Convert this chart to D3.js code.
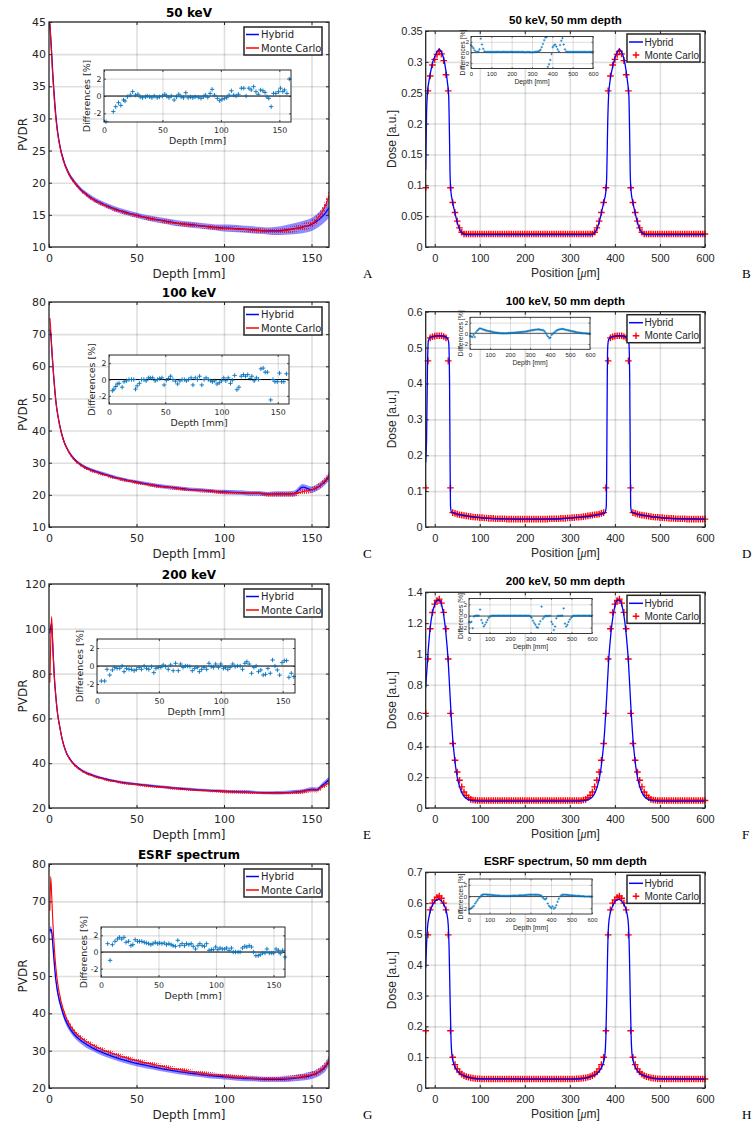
<!DOCTYPE html>
<html><head><meta charset="utf-8">
<script src="https://cdn.jsdelivr.net/npm/d3@7"></script>
<style>body{margin:0;background:#fff;} svg{display:block}</style>
</head><body>
<script>
// ---------------- DATA ----------------
const depth = [0.5,1,1.5,2,2.5,3,4,5,6,7,8,9,10,12,14,16,18,20,25,30,35,40,45,50,55,60,65,70,75,80,85,90,95,100,105,110,115,120,125,130,135,140,145,150,153,156,158,160];

const hybA = [44.6,42.5,40.3,37.8,35.6,33.6,30.2,27.8,26.1,24.8,23.8,22.9,22.2,21.1,20.3,19.6,19.0,18.5,17.5,16.8,16.2,15.7,15.3,14.95,14.6,14.35,14.1,13.85,13.65,13.5,13.35,13.2,13.05,12.95,12.9,12.8,12.7,12.6,12.5,12.5,12.65,12.85,13.1,13.5,14.0,14.7,15.3,16.1];
const mcA = [45.0,42.3,39.8,37.2,35.0,33.0,29.8,27.5,25.9,24.6,23.6,22.8,22.1,21.0,20.2,19.5,18.9,18.4,17.4,16.7,16.1,15.6,15.2,14.9,14.55,14.3,14.05,13.8,13.6,13.45,13.3,13.15,13.0,12.9,12.85,12.75,12.65,12.55,12.45,12.4,12.55,12.8,13.15,13.6,14.3,15.4,16.5,18.0];
const hybErrA = [0.3,0.3,0.3,0.3,0.3,0.3,0.3,0.3,0.3,0.3,0.3,0.3,0.35,0.35,0.35,0.35,0.35,0.35,0.4,0.4,0.4,0.4,0.4,0.4,0.4,0.45,0.45,0.45,0.45,0.45,0.45,0.45,0.45,0.55,0.55,0.55,0.55,0.55,0.55,0.65,0.75,0.85,0.95,1.0,1.1,1.2,1.35,1.5];
const mcErrA = [0.25,0.25,0.25,0.25,0.25,0.25,0.25,0.25,0.25,0.25,0.25,0.25,0.25,0.25,0.25,0.25,0.25,0.25,0.3,0.3,0.3,0.3,0.3,0.3,0.3,0.35,0.35,0.35,0.35,0.35,0.35,0.35,0.35,0.4,0.4,0.4,0.4,0.4,0.4,0.45,0.5,0.5,0.55,0.6,0.65,0.7,0.8,0.9];

const hybC = [71.5,70,66,62,58.2,54.8,48.8,45.0,42.0,39.6,37.6,36.0,34.8,32.8,31.4,30.3,29.5,28.8,27.6,26.7,25.9,25.1,24.5,24.0,23.5,23.0,22.6,22.3,22.0,21.7,21.5,21.3,21.1,20.9,20.8,20.7,20.5,20.5,20.2,20.3,20.3,20.4,22.4,21.6,22.2,23.3,24.3,25.7];
const mcC = [75,71.5,66.5,62,58,54.5,48.6,44.8,41.8,39.4,37.4,35.9,34.7,32.7,31.2,30.1,29.3,28.6,27.4,26.5,25.7,25.0,24.4,23.8,23.3,22.9,22.5,22.2,21.9,21.6,21.4,21.2,21.0,20.8,20.7,20.6,20.4,20.4,20.1,20.2,20.2,20.3,21.0,21.5,22.3,23.5,24.6,26.0];
const hybErrC = [0.5,0.5,0.5,0.5,0.5,0.5,0.5,0.5,0.5,0.5,0.5,0.5,0.5,0.5,0.5,0.5,0.5,0.5,0.55,0.55,0.55,0.55,0.55,0.55,0.55,0.6,0.6,0.6,0.6,0.6,0.6,0.6,0.6,0.7,0.7,0.7,0.7,0.7,0.7,0.8,0.8,0.9,1.0,1.0,1.0,1.1,1.1,1.2];
const mcErrC = [0.5,0.5,0.5,0.5,0.5,0.5,0.5,0.5,0.5,0.5,0.5,0.5,0.5,0.5,0.5,0.5,0.5,0.5,0.5,0.5,0.5,0.5,0.5,0.5,0.5,0.55,0.55,0.55,0.55,0.55,0.55,0.55,0.55,0.6,0.6,0.6,0.6,0.6,0.6,0.7,0.7,0.8,0.8,0.9,0.9,1.0,1.0,1.1];

const hybE = [98,101,102.5,95,86.5,79,69,61.5,57,52.8,49.3,46.7,44.6,41.8,39.8,38.4,37.2,36.2,34.6,33.4,32.4,31.7,31.1,30.6,30.2,29.8,29.4,29.0,28.7,28.4,28.1,27.9,27.7,27.5,27.3,27.2,27.1,26.9,26.8,26.8,26.9,27.1,27.5,28.3,28.2,30.0,31.3,32.6];
const mcE = [76,95,105.5,96,87,79,69,61.5,56.8,52.6,49.1,46.5,44.4,41.6,39.6,38.2,37.0,36.0,34.4,33.2,32.2,31.5,30.9,30.4,30.0,29.6,29.2,28.9,28.5,28.2,27.9,27.7,27.5,27.3,27.2,27.1,27.0,26.8,26.7,26.7,26.7,26.9,27.3,28.0,27.9,29.4,30.2,31.2];
const hybErrE = [0.6,0.6,0.6,0.6,0.6,0.6,0.6,0.6,0.6,0.6,0.6,0.6,0.6,0.6,0.6,0.6,0.6,0.6,0.6,0.6,0.6,0.6,0.6,0.6,0.6,0.6,0.6,0.6,0.6,0.6,0.6,0.6,0.6,0.7,0.7,0.7,0.7,0.7,0.7,0.8,0.8,0.9,0.9,1.0,1.0,1.1,1.2,1.3];
const mcErrE = [0.6,0.6,0.6,0.6,0.6,0.6,0.6,0.6,0.6,0.6,0.6,0.6,0.6,0.6,0.6,0.6,0.6,0.6,0.6,0.6,0.6,0.6,0.6,0.6,0.6,0.6,0.6,0.6,0.6,0.6,0.6,0.6,0.6,0.7,0.7,0.7,0.7,0.7,0.7,0.8,0.8,0.9,0.9,1.0,1.0,1.1,1.1,1.2];

const hybG = [62,62.5,62,59.5,56.5,53.5,48.6,45.5,43.3,41.6,40.0,38.7,37.6,35.9,34.6,33.6,32.8,32.1,30.7,29.6,28.7,27.9,27.2,26.6,26.1,25.6,25.1,24.7,24.3,24.0,23.7,23.4,23.2,23.0,22.8,22.6,22.5,22.4,22.3,22.3,22.4,22.6,22.9,23.4,23.9,24.8,25.7,27.3];
const mcG = [67.5,76.5,72,66.5,61.8,57.8,51.8,47.9,45.2,43.0,41.3,39.9,38.7,36.9,35.5,34.4,33.6,32.9,31.5,30.4,29.5,28.7,28.0,27.4,26.8,26.3,25.8,25.3,24.9,24.5,24.1,23.8,23.5,23.3,23.0,22.9,22.7,22.6,22.5,22.5,22.6,22.8,23.1,23.6,24.1,25.1,26.0,27.6];
const hybErrG = [0.9,0.9,0.9,0.9,0.9,0.9,0.9,0.9,0.9,0.9,0.9,0.9,0.9,0.9,0.9,0.9,0.9,0.9,0.8,0.8,0.8,0.8,0.8,0.8,0.8,0.7,0.7,0.7,0.7,0.7,0.7,0.7,0.7,0.7,0.7,0.7,0.7,0.7,0.7,0.7,0.8,0.8,0.9,1.0,1.0,1.1,1.2,1.3];
const mcErrG = [0.6,0.6,0.6,0.6,0.6,0.6,0.6,0.6,0.6,0.6,0.6,0.6,0.6,0.6,0.6,0.6,0.6,0.6,0.6,0.6,0.6,0.6,0.6,0.6,0.6,0.6,0.6,0.6,0.6,0.6,0.6,0.6,0.6,0.6,0.6,0.6,0.6,0.6,0.6,0.6,0.7,0.7,0.8,0.8,0.9,0.9,1.0,1.0];

// inset differences (left column)
const dA = [1.7,8,10,12.4,14.4,16.7,18,20,22.5,24.5,27,29,31,33,35.5,37,39,41,43,45.5,47.5,50,52,53.6,55.6,57.6,60,62,64,66,68,70,72,74,76,78,80.7,83,85,86.7,88.8,90.8,92.5,94.5,97,99,101,103,105,107,109,111,113,115,117.5,119.6,121.6,124,126,128,130,132,134,136,137.8,139.5,141,143,145,147,149.3,151,153,154.5,156.5,158.5];
const vA = [-2.96,-1.8,-1.23,-0.77,-1.08,-0.46,-0.58,-0.08,0.1,0.5,0.1,0.2,-0.1,-0.2,-0.1,0,-0.1,-0.2,0,-0.2,-0.1,0,0.2,0,-0.2,0,-0.46,-0.1,0.2,-0.1,-0.2,0.38,-0.2,-0.1,-0.2,-0.1,-0.15,-0.27,-0.1,0.1,-0.15,0.3,0.77,0.1,-0.27,-0.54,-0.38,-0.27,-0.2,0.1,0.6,0.1,0,0.2,0.9,0.9,0,0.9,0.7,1.08,0.5,0.2,0.7,0.6,0.4,-0.1,-0.27,-1.23,0.3,0.3,0.5,0.9,0.5,0.7,0.3,1.96];
const dC = [3,4.4,6,7.3,9,11.7,13.4,15.5,17.8,20,22,23.6,25,27,29,31,33,35,36.7,38.8,41,43,45,47,49,51,53,54.8,56.8,59,61,63,65,67,68.8,70.8,73,74.6,76.7,78.7,80.5,82.5,84.5,86.3,88.3,90.4,92,94,96,98,100,102,103.8,106,108,109.6,111.7,113.7,115.5,117.5,119.5,121.3,123.3,125.4,127,129,131,133,135,137,138.8,140.8,143.7,145.8,147.5,149.6,151.6,153.4,155.4,157.7];
const vC = [-1.37,-1.18,-0.86,-0.55,-0.47,-0.94,-0.27,-0.16,0,0,0,-1.18,-0.78,-0.47,0,0,-0.16,0.2,0.2,0.2,-0.16,0,0.12,0.2,-0.67,-0.08,0.12,0.4,0,-0.2,-0.55,-0.16,0,0,-0.16,0,0.2,-0.67,0.2,0,0.4,-0.67,0,0.2,0,-0.16,-0.27,-0.16,-0.55,-0.4,-0.16,0.2,-0.16,0.2,-0.47,-0.08,0.5,-1.25,-0.94,0.4,0.6,0.4,0.6,0.12,0.4,-0.16,0.2,0,1.3,1.4,0.9,0.9,-2.5,0,-0.27,-0.27,0.78,-0.27,-0.27,0.7];
const dE = [3.5,6.2,8.1,10.3,12.4,14.3,16.2,18.4,20.3,21.9,23.8,25.9,27.8,30,31.9,34.1,35.9,38.1,40,41.9,44.1,45.9,47.6,49.5,51.6,53.5,55.4,57.6,59.5,61.6,63.5,65.7,67.6,69.5,71.4,73.2,75.1,77,78.9,81.1,82.7,84.6,86.5,88.6,90.5,92.2,94.1,95.9,98.1,100,102.2,103.8,105.7,107.6,109.7,111.6,113.5,115.7,117.6,119.5,121.1,123,124.9,126.8,128.6,130.5,132.4,134.3,136.2,138.1,140,141.9,143.8,145.7,147.6,149.5,151.4,153.2,155.1,157,159];
const vE = [-1.67,-1.67,-0.37,-1.0,-0.44,-0.15,-0.26,-0.26,0,-0.63,-0.26,-0.37,-0.37,-0.52,-0.37,-0.15,-0.37,0,-0.26,-0.37,-0.07,-0.74,-0.26,-0.15,-0.15,0.11,-0.07,-0.37,0.11,-0.52,0.3,-0.52,0.22,-0.15,0,0,-0.07,-0.52,-0.26,-0.15,-0.63,-0.37,-0.15,-0.37,0.3,-0.07,-0.15,0.22,-0.15,0.22,-0.26,-0.15,-0.37,-0.15,0.22,-0.07,0,0,-0.37,0.3,0.48,0.22,-0.81,-0.15,0,-0.63,-0.44,-1.0,-0.93,-0.26,-0.81,0.67,0,-0.44,-1.0,0.37,0.59,0.6,-1.26,-0.81,-1.18];
const dG = [5.8,7.9,9.9,12.2,14.3,16,18,20,21.8,24,26,27.7,29.7,31.8,33.5,35.5,37.6,39.4,41.4,43.4,45.2,47.2,49.3,51,53,55,57,59,61,62.7,64.7,66.8,68.5,70.5,72.6,74.3,76.4,78.4,80.2,82.2,84.3,86,88,90,91.8,94,96,97.7,99.7,101.7,103.5,105.5,107.6,109.3,111.4,113.4,115,117,119.2,121,123,125,126.8,128.9,130.9,132.6,134.7,136.7,138.5,140.5,142.6,144.3,146.4,148.4,150.1,152.2,154.2,155.9,158,160];
const vG = [1.0,-1.0,0.88,1.28,1.56,1.76,1.56,1.76,1.16,1.28,0.76,0.88,1.48,1.28,1.28,1.28,1.16,1.08,1.0,0.88,1.0,1.16,1.0,1.08,1.0,1.08,0.88,1.0,0.88,0.76,0.68,1.4,0.76,1.0,0.76,1.0,0.88,1.0,0.68,0.36,0.76,1.0,0.76,0.68,1.0,0.2,0.28,0.28,0.6,0.28,0.48,0.36,0.36,0.48,0.2,0.48,0,0,0,0,0.48,0.68,0.6,0.76,0.6,0,-0.44,-0.44,-0.32,-0.12,-0.12,0.36,-0.12,-0.12,-0.12,0.36,0.2,-0.2,0.2,-0.6];

// lateral profiles (right column)
const mcPos = [-20,-15,-10,-5,0,5,10,15,20,25,30,35,40,45,50,55,60,65,70,75,80,85,90,95,100,105,110,115,120,125,130,135,140,145,150,155,160,165,170,175,180,185,190,195,200,205,210,215,220,225,230,235,240,245,250,255,260,265,270,275,280,285,290,295,300,305,310,315,320,325,330,335,340,345,350,355,360,365,370,375,380,385,390,395,400,405,410,415,420,425,430,435,440,445,450,455,460,465,470,475,480,485,490,495,500,505,510,515,520,525,530,535,540,545,550,555,560,565,570,575,580,585,590,595,600];
const mcB = [0.096,0.253,0.277,0.295,0.304,0.312,0.317,0.313,0.302,0.279,
0.253,0.096,0.072,0.056,0.042,0.031,0.024,0.021,0.021,0.021,
0.021,0.021,0.021,0.021,0.021,0.021,0.021,0.021,0.021,0.021,
0.021,0.021,0.021,0.021,0.021,0.021,0.021,0.021,0.021,0.021,
0.021,0.021,0.021,0.021,0.021,0.021,0.021,0.021,0.021,0.021,
0.021,0.021,0.021,0.021,0.021,0.021,0.021,0.021,0.021,0.021,
0.021,0.021,0.021,0.021,0.021,0.021,0.021,0.021,0.021,0.021,
0.021,0.021,0.021,0.021,0.021,0.024,0.031,0.042,0.056,0.072,
0.096,0.253,0.277,0.295,0.304,0.312,0.317,0.313,0.302,0.279,
0.253,0.096,0.072,0.056,0.042,0.031,0.024,0.021,0.021,0.021,
0.021,0.021,0.021,0.021,0.021,0.021,0.021,0.021,0.021,0.021,
0.021,0.021,0.021,0.021,0.021,0.021,0.021,0.021,0.021,0.021,
0.021,0.021,0.021,0.021,0.021];
const mcD = [0.109,0.463,0.527,0.530,0.532,0.533,0.533,0.533,0.531,0.527,
0.463,0.109,0.040,0.038,0.036,0.034,0.033,0.032,0.031,0.030,
0.029,0.028,0.027,0.027,0.026,0.026,0.025,0.025,0.024,0.024,
0.024,0.023,0.023,0.023,0.023,0.023,0.022,0.022,0.022,0.022,
0.022,0.022,0.022,0.022,0.022,0.022,0.022,0.022,0.022,0.022,
0.022,0.022,0.022,0.022,0.022,0.023,0.023,0.023,0.023,0.023,
0.024,0.024,0.024,0.025,0.025,0.026,0.026,0.027,0.027,0.028,
0.029,0.030,0.031,0.032,0.033,0.034,0.035,0.036,0.038,0.040,
0.109,0.463,0.527,0.530,0.532,0.533,0.533,0.533,0.531,0.527,
0.463,0.109,0.040,0.038,0.036,0.034,0.033,0.032,0.031,0.030,
0.029,0.028,0.027,0.027,0.026,0.026,0.025,0.025,0.024,0.024,
0.024,0.023,0.023,0.023,0.023,0.023,0.022,0.022,0.022,0.022,
0.022,0.022,0.022,0.022,0.022];
const mcF = [0.614,0.967,1.163,1.269,1.323,1.347,1.356,1.330,1.270,1.163,
0.967,0.614,0.419,0.310,0.234,0.180,0.137,0.104,0.082,0.067,
0.056,0.052,0.050,0.049,0.049,0.049,0.049,0.049,0.049,0.049,
0.049,0.049,0.049,0.049,0.049,0.049,0.049,0.049,0.049,0.049,
0.049,0.049,0.049,0.049,0.049,0.049,0.049,0.049,0.049,0.049,
0.049,0.049,0.049,0.049,0.049,0.049,0.049,0.049,0.049,0.049,
0.049,0.049,0.049,0.049,0.049,0.049,0.049,0.049,0.049,0.049,
0.052,0.056,0.067,0.082,0.104,0.137,0.180,0.234,0.310,0.419,
0.614,0.967,1.163,1.269,1.323,1.347,1.356,1.330,1.270,1.163,
0.967,0.614,0.419,0.310,0.234,0.180,0.137,0.104,0.082,0.067,
0.056,0.052,0.050,0.049,0.049,0.049,0.049,0.049,0.049,0.049,
0.049,0.049,0.049,0.049,0.049,0.049,0.049,0.049,0.049,0.049,
0.049,0.049,0.049,0.049,0.049];
const mcH = [0.186,0.497,0.578,0.600,0.610,0.619,0.623,0.616,0.600,0.578,
0.497,0.186,0.100,0.076,0.062,0.052,0.045,0.040,0.037,0.035,
0.033,0.032,0.031,0.030,0.030,0.029,0.029,0.029,0.029,0.029,
0.029,0.029,0.029,0.029,0.029,0.029,0.029,0.029,0.029,0.029,
0.029,0.029,0.029,0.029,0.029,0.029,0.029,0.029,0.029,0.029,
0.029,0.029,0.029,0.029,0.029,0.029,0.029,0.029,0.029,0.029,
0.029,0.029,0.029,0.029,0.029,0.029,0.029,0.030,0.030,0.031,
0.032,0.033,0.035,0.037,0.040,0.045,0.052,0.062,0.076,0.100,
0.186,0.497,0.578,0.600,0.610,0.619,0.623,0.616,0.600,0.578,
0.497,0.186,0.100,0.076,0.062,0.052,0.045,0.040,0.037,0.035,
0.033,0.032,0.031,0.030,0.030,0.029,0.029,0.029,0.029,0.029,
0.029,0.029,0.029,0.029,0.029,0.029,0.029,0.029,0.029,0.029,
0.029,0.029,0.029,0.029,0.029];

const posB = [-20,-18,-16,-13,-10,-5,0,5,10,15,20,25,28,31,33,34,36,40,45,50,55,60,65,70,350,355,360,365,370,375,380,382,384,386,389,395,400,405,410,415,420,425,428,431,433,434,436,440,445,450,455,460,465,470,600];
const hybB = [0.125,0.22,0.25,0.268,0.28,0.298,0.308,0.316,0.32,0.316,0.305,0.285,0.268,0.245,0.17,0.12,0.09,0.072,0.055,0.04,0.029,0.023,0.021,0.02,0.02,0.023,0.029,0.04,0.055,0.072,0.09,0.12,0.2,0.245,0.268,0.292,0.306,0.316,0.32,0.316,0.305,0.285,0.268,0.245,0.17,0.12,0.09,0.072,0.055,0.04,0.029,0.023,0.021,0.02,0.02];
const posD = [-20,-18,-16,-14,-10,0,10,20,28,31,33,34,35,37,40,50,60,80,100,120,150,200,250,280,300,320,340,360,370,378,381,382,383,384,386,390,400,410,420,428,431,433,434,435,437,440,450,460,480,500,520,550,600];
const hybD = [0.18,0.25,0.45,0.52,0.528,0.532,0.533,0.532,0.526,0.515,0.4,0.2,0.06,0.042,0.04,0.036,0.033,0.029,0.026,0.024,0.023,0.022,0.022,0.023,0.025,0.027,0.029,0.033,0.036,0.04,0.06,0.2,0.4,0.5,0.522,0.528,0.532,0.533,0.532,0.526,0.515,0.4,0.2,0.06,0.042,0.04,0.036,0.033,0.029,0.026,0.024,0.023,0.022];
const posF = [-20,-15,-10,-5,0,4,8,12,16,20,25,30,35,40,45,50,55,60,65,70,80,90,100,200,316,326,336,346,351,356,361,366,371,376,381,386,391,396,400,404,408,412,416,420,425,430,435,440,445,450,455,460,465,470,480,490,500,600];
const hybF = [0.78,1.0,1.17,1.27,1.32,1.345,1.35,1.345,1.31,1.25,1.13,0.95,0.68,0.45,0.3,0.2,0.14,0.1,0.075,0.062,0.05,0.046,0.045,0.045,0.045,0.046,0.05,0.062,0.075,0.1,0.14,0.2,0.3,0.45,0.68,0.95,1.13,1.25,1.31,1.345,1.35,1.345,1.31,1.25,1.13,0.95,0.68,0.45,0.3,0.2,0.14,0.1,0.075,0.062,0.05,0.046,0.045,0.045];
const posH = [-20,-18,-16,-12,-6,0,8,16,22,27,30,32,34,36,38,42,46,50,55,60,70,80,100,200,300,320,340,350,356,361,366,370,374,378,380,382,384,386,390,395,400,408,416,422,427,430,432,434,436,438,442,446,450,455,460,470,480,500,600];
const hybH = [0.39,0.47,0.52,0.56,0.59,0.605,0.612,0.605,0.59,0.565,0.53,0.45,0.3,0.17,0.11,0.08,0.066,0.056,0.048,0.043,0.037,0.033,0.03,0.029,0.029,0.03,0.034,0.039,0.043,0.048,0.056,0.066,0.08,0.11,0.17,0.3,0.45,0.53,0.57,0.59,0.605,0.612,0.605,0.59,0.565,0.53,0.45,0.3,0.17,0.11,0.08,0.066,0.056,0.048,0.043,0.037,0.033,0.03,0.029];

const diffPos = [0,6,12,18,24,30,36,42,48,54,60,66,72,78,84,90,96,102,108,114,120,126,132,138,144,150,156,162,168,174,180,186,192,198,204,210,216,222,228,234,240,246,252,258,264,270,276,282,288,294,300,306,312,318,324,330,336,342,348,354,360,366,372,378,384,390,396,402,408,414,420,426,432,438,444,450,456,462,468,474,480,486,492,498,504,510,516,522,528,534,540,546,552,558,564,570,576,582,588,594,600];
const diffB = [1.4,1.1,0.8,0.4,0.1,0.1,0.2,0.6,2.6,1.5,
0.7,0.2,0.1,0.1,0.1,0.1,0.1,0.1,0.1,0.1,
0.1,0.1,0.15,0.1,0.1,0.1,0.1,0.15,0.1,0.1,
0.1,0.1,0.1,0.15,0.1,0.1,0.1,0.1,0.1,0.1,
0.1,0.1,0.1,0.1,0.05,0.05,0.1,0.1,0.05,0.05,
0.05,0.05,0.1,0.1,0.15,0.2,0.3,0.5,1.0,1.6,
2.3,2.8,2.9,-2.7,-2.2,-1.4,-0.3,1.0,1.3,1.5,
1.1,0.6,0.2,1.4,2.2,2.7,1.5,0.6,0.2,0.1,
0.1,0.1,0.1,0.1,0.1,0.1,0.1,0.1,0.1,0.1,
0.1,0.1,0.1,0.1,0.1,0.1,0.1,0.1,0.1,0.1,0.1];
const diffD = [-0.5,-0.6,-0.7,-0.3,-0.7,0.2,0.5,0.7,0.9,0.9,
0.8,0.7,0.65,0.55,0.5,0.45,0.4,0.35,0.3,0.25,
0.2,0.15,0.1,0.1,0.05,0.05,0,0,0,0,
0,0,0.05,0.05,0.05,0.1,0.1,0.1,0.15,0.15,
0.2,0.2,0.2,0.25,0.25,0.3,0.3,0.35,0.4,0.45,
0.5,0.55,0.6,0.6,0.65,0.7,0.7,0.75,0.7,0.65,
0.6,0.6,0.4,0.1,-0.3,-0.6,-0.9,-0.8,-0.3,-0.1,
0.1,0.3,0.5,0.6,0.7,0.75,0.8,0.8,0.8,0.7,
0.65,0.6,0.55,0.5,0.45,0.4,0.35,0.3,0.25,0.2,
0.15,0.1,0.1,0.05,0,0,0,-0.05,-0.05,-0.1,-0.1];
const diffF = [-1.0,-1.1,-1.0,-2.1,-0.1,0.05,0.05,0.05,0.05,1.1,
-0.7,-1.2,-1.8,-1.5,-1.1,-0.7,-0.3,-0.1,0,0.05,
0.05,0.05,0.05,0.05,0.05,0.05,0.05,0.05,0.05,0.05,
0.05,0.05,0.05,0.05,0.05,0.05,0.05,0.05,0.05,0.05,
0.05,0.05,0.05,0.05,0.05,0.05,0.05,0.05,0.05,0.05,
-0.1,-0.3,-0.8,-1.2,-1.5,-1.9,-2.0,-1.4,-0.9,1.6,
-0.5,-0.2,0,0,0,0,0.05,-1.0,-1.4,-2.4,
-1.8,-0.4,0,0,0.05,0.05,0.05,1.3,-1.3,-1.8,
-1.5,-1.0,-0.6,-0.3,-0.1,0.05,0.05,0.05,0.05,0.05,
0.05,0.05,0.05,0.05,0.05,0.05,0.05,0.05,0.05,0.05,0.05];
const diffH = [-2.2,-2.1,-2.0,-1.8,-1.6,-1.2,-0.9,-0.6,-0.3,-0.1,
0.2,0.3,0.35,0.35,0.35,0.3,0.3,0.3,0.25,0.25,
0.2,0.2,0.2,0.15,0.15,0.15,0.1,0.1,0.1,0.1,
0.1,0.1,0.1,0.1,0.1,0.15,0.15,0.15,0.15,0.15,
0.15,0.2,0.2,0.2,0.2,0.2,0.25,0.25,0.3,0.3,
0.3,0.3,0.3,0.3,0.3,0.3,0.3,0.25,0.2,0.1,
-0.2,-0.4,-0.5,-0.3,-1.2,-1.6,-1.8,-2.0,-1.7,-2.1,
-1.9,-1.5,-0.9,-0.4,0,0.2,0.3,0.3,0.3,0.3,
0.25,0.25,0.2,0.2,0.2,0.15,0.15,0.1,0.1,0.1,
0.1,0.05,0.05,0.05,0,0,0,0,0,0,0];

const depthTicks = [0,50,100,150];
const posTicks = [0,100,200,300,400,500,600];
const diffTicks = [-2,0,2];
const yTicksA = [10,15,20,25,30,35,40,45];
const yTicksC = [10,20,30,40,50,60,70,80];
const yTicksE = [20,40,60,80,100,120];
const yTicksG = [20,30,40,50,60,70,80];
const yTicksB = [0,0.05,0.1,0.15,0.2,0.25,0.3,0.35];
const yTicksD = [0,0.1,0.2,0.3,0.4,0.5,0.6];
const yTicksF = [0,0.2,0.4,0.6,0.8,1,1.2,1.4];
const yTicksH = [0,0.1,0.2,0.3,0.4,0.5,0.6,0.7];

// ---------------- DRAWING ----------------
const TXT = "#262626";
const LF = "'DejaVu Sans', Verdana, sans-serif";
const RF = "'Liberation Sans', Arial, Helvetica, sans-serif";
const SF = "'Liberation Serif', 'Times New Roman', serif";
const fmt = d => String(d);

const svg = d3.select("body").append("svg").attr("width",752).attr("height",1124);
svg.append("rect").attr("width",752).attr("height",1124).attr("fill","#fff");
const defs = svg.append("defs");
const pat = defs.append("pattern").attr("id","mcHatch").attr("patternUnits","userSpaceOnUse").attr("width",2).attr("height",3);
pat.append("rect").attr("width",1).attr("height",2).attr("fill","#ff0000").attr("opacity",0.8);

let clipN = 0;
function clip(x,y,w,h){ const id="clp"+(clipN++); defs.append("clipPath").attr("id",id).append("rect").attr("x",x).attr("y",y).attr("width",w).attr("height",h); return `url(#${id})`; }
function cross(x,y,s){ return `M${x-s},${y}h${2*s}M${x},${y-s}v${2*s}`; }

function drawGrid(g, xs, ys, xT, yT, gw){
  const [x0,x1]=xs.range(), [y1,y0]=ys.range(); const xd=xs.domain(), yd=ys.domain();
  const gg=g.append("g");
  gg.append("g").attr("transform",`translate(0,${y1})`).call(d3.axisBottom(xs).tickValues(xT.filter(t=>t>xd[0]&&t<xd[1])).tickSize(-(y1-y0)).tickFormat(""));
  gg.append("g").attr("transform",`translate(${x0},0)`).call(d3.axisLeft(ys).tickValues(yT.filter(t=>t>yd[0]&&t<yd[1])).tickSize(-(x1-x0)).tickFormat(""));
  gg.selectAll(".domain").remove();
  gg.selectAll("line").attr("stroke","#262626").attr("stroke-opacity",0.15).attr("stroke-width",gw);
}
function drawFrame(g, xs, ys, xT, yT, o){
  const [x0,x1]=xs.range(), [y1,y0]=ys.range();
  const mk=(axis,tr)=>{ const a=g.append("g").attr("transform",tr).call(axis); a.select(".domain").remove();
    a.selectAll("line").attr("stroke",TXT).attr("stroke-width",o.tw||1);
    a.selectAll("text").attr("fill",TXT).style("font-family",o.font).style("font-size",o.fs+"px"); return a; };
  mk(d3.axisBottom(xs).tickValues(xT).tickSize(-o.tl).tickPadding(o.padX).tickFormat(fmt),`translate(0,${y1})`);
  mk(d3.axisTop(xs).tickValues(xT).tickSize(-o.tl).tickFormat(""),`translate(0,${y0})`);
  mk(d3.axisLeft(ys).tickValues(yT).tickSize(-o.tl).tickPadding(o.padY).tickFormat(fmt),`translate(${x0},0)`);
  mk(d3.axisRight(ys).tickValues(yT).tickSize(-o.tl).tickFormat(""),`translate(${x1},0)`);
  g.append("rect").attr("x",x0).attr("y",y0).attr("width",x1-x0).attr("height",y1-y0).attr("fill","none").attr("stroke",TXT).attr("stroke-width",o.bw);
}
function text(g,x,y,str,font,fs,opt={}){
  const t=g.append("text").attr("x",x).attr("y",y).attr("text-anchor",opt.anchor||"middle")
    .style("font-family",font).style("font-size",fs+"px").attr("fill",opt.fill||TXT);
  if(opt.bold) t.style("font-weight","bold");
  if(opt.rot) t.attr("transform",`rotate(-90,${x},${y})`).attr("dominant-baseline","central");
  if(opt.mid) t.attr("dominant-baseline","central");
  t.text(str); return t;
}
function drawInset(g, r, xDom, xT, dx, dv, o){
  const xs=d3.scaleLinear().domain(xDom).range([r.x0,r.x1]);
  const ys=d3.scaleLinear().domain([-3,3]).range([r.y1,r.y0]);
  g.append("rect").attr("x",r.x0).attr("y",r.y0).attr("width",r.x1-r.x0).attr("height",r.y1-r.y0).attr("fill","#fff");
  drawGrid(g,xs,ys,xT,diffTicks,o.gw);
  g.append("line").attr("x1",r.x0).attr("x2",r.x1).attr("y1",ys(0)).attr("y2",ys(0)).attr("stroke",o.zc).attr("stroke-width",o.zw);
  g.append("g").selectAll("path").data(dx.map((x,i)=>[x,dv[i]])).join("path")
    .attr("d",d=>cross(xs(d[0]),ys(d[1]),o.ms)).attr("stroke","#0072bd").attr("stroke-width",o.mw).attr("fill","none");
  drawFrame(g,xs,ys,xT,diffTicks,{font:o.font,fs:o.fs,tl:o.tl,padX:o.padX,padY:o.padY,bw:o.bw,tw:o.tw});
  text(g,(r.x0+r.x1)/2,r.y1+o.xlOff,"Depth [mm]",o.font,o.lfs);
  text(g,r.x0-o.ylOff,(r.y0+r.y1)/2,"Differences [%]",o.font,o.lfs,{rot:true});
}

function depthPanel(p){
  const g=svg.append("g");
  const xs=d3.scaleLinear().domain([0,160]).range([49,329]);
  const ys=d3.scaleLinear().domain(p.yDom).range([p.bot,p.top]);
  drawGrid(g,xs,ys,depthTicks,p.yTicks,1.6);
  const dg=g.append("g").attr("clip-path",clip(49,p.top,280,p.bot-p.top));
  const hyb=depth.map((d,i)=>({x:d,y:p.hyb[i],e:p.hybErr[i]}));
  const mc=depth.map((d,i)=>({x:d,y:p.mc[i],e:p.mcErr[i]}));
  const area=d3.area().x(d=>xs(d.x)).y0(d=>ys(d.y-d.e)).y1(d=>ys(d.y+d.e)).curve(d3.curveMonotoneX);
  const line=d3.line().x(d=>xs(d.x)).y(d=>ys(d.y)).curve(d3.curveMonotoneX);
  dg.append("path").datum(hyb).attr("d",area).attr("fill","#1a1aff").attr("fill-opacity",0.5);
  dg.append("path").datum(hyb).attr("d",line).attr("fill","none").attr("stroke","#0000ff").attr("stroke-width",1.3);
  dg.append("path").datum(mc).attr("d",area).attr("fill","url(#mcHatch)");
  dg.append("path").datum(mc).attr("d",line).attr("fill","none").attr("stroke","#ff0000").attr("stroke-width",1.1);
  drawFrame(g,xs,ys,depthTicks,p.yTicks,{font:LF,fs:11,tl:3,padX:7,padY:3,bw:1.3,tw:1});
  text(g,189,p.top-5.5,p.title,LF,12,{bold:true,fill:"#000"});
  text(g,189,p.bot+31,"Depth [mm]",LF,12);
  text(g,23,(p.top+p.bot)/2,"PVDR",LF,12,{rot:true});
  const lt=p.top+5;
  g.append("rect").attr("x",244).attr("y",lt).attr("width",78).attr("height",28).attr("fill","#fff").attr("stroke",TXT).attr("stroke-width",1.5);
  [["Hybrid","#0000ff",7.5],["Monte Carlo","#ff0000",21]].forEach(([n,c,dy])=>{
    g.append("line").attr("x1",246).attr("x2",259).attr("y1",lt+dy).attr("y2",lt+dy).attr("stroke",c).attr("stroke-width",1.5);
    text(g,261,lt+dy,n,LF,10,{anchor:"start",mid:true});
  });
  drawInset(g.append("g"),p.inset,[0,160],depthTicks,p.dx,p.dv,
    {font:LF,fs:7.8,lfs:9.4,gw:1.2,zc:"#000",zw:1,ms:2.2,mw:0.9,tl:2,padX:5,padY:2.5,bw:1,tw:0.8,xlOff:21.5,ylOff:18});
  text(g,363,p.bot+31,p.letter,SF,13,{anchor:"start",fill:"#000"});
}

function profilePanel(p){
  const g=svg.append("g");
  const xs=d3.scaleLinear().domain([-20,600]).range([425.7,705]);
  const ys=d3.scaleLinear().domain([0,p.yMax]).range([p.bot,p.top]);
  drawGrid(g,xs,ys,posTicks,p.yTicks,1.6);
  g.append("g").selectAll("path").data(mcPos.map((x,i)=>[x,p.mc[i]])).join("path")
    .attr("d",d=>cross(xs(d[0]),ys(d[1]),3.3)).attr("stroke","#ff0000").attr("stroke-width",1.4).attr("fill","none");
  const dg=g.append("g").attr("clip-path",clip(425.7,p.top,279.3,p.bot-p.top));
  const line=d3.line().x(d=>xs(d[0])).y(d=>ys(d[1])).curve(d3.curveMonotoneX);
  dg.append("path").datum(p.pos.map((x,i)=>[x,p.hyb[i]])).attr("d",line).attr("fill","none").attr("stroke","#0000ff").attr("stroke-width",1.3);
  drawFrame(g,xs,ys,posTicks,p.yTicks,{font:RF,fs:11,tl:3,padX:7,padY:3,bw:1.3,tw:1});
  text(g,565.4,p.top-7,p.title,RF,11.5,{bold:true,fill:"#000"});
  const xl=text(g,565.4,p.bot+30,"",RF,12);
  xl.append("tspan").text("Position [");
  xl.append("tspan").style("font-style","italic").style("font-family",SF).text("\u03bc");
  xl.append("tspan").text("m]");
  text(g,392,(p.top+p.bot)/2,"Dose [a.u.]",RF,12,{rot:true});
  const lt=p.top+3;
  g.append("rect").attr("x",627).attr("y",lt).attr("width",73).attr("height",28).attr("fill","#fff").attr("stroke",TXT).attr("stroke-width",1.5);
  g.append("line").attr("x1",629).attr("x2",643).attr("y1",lt+8).attr("y2",lt+8).attr("stroke","#0000ff").attr("stroke-width",1.5);
  g.append("path").attr("d",cross(636,lt+21,3.3)).attr("stroke","#ff0000").attr("stroke-width",1.4);
  text(g,644.5,lt+8,"Hybrid",RF,10,{anchor:"start",mid:true});
  text(g,644.5,lt+21,"Monte Carlo",RF,10,{anchor:"start",mid:true});
  drawInset(g.append("g"),p.inset,[0,600],posTicks,diffPos,p.diff,
    {font:RF,fs:6,lfs:6.8,gw:1,zc:"#444",zw:0.9,ms:1.2,mw:0.7,tl:1.5,padX:3.5,padY:2,bw:0.9,tw:0.6,xlOff:15.5,ylOff:9});
  text(g,742,p.bot+31,p.letter,SF,13,{anchor:"start",fill:"#000"});
}

depthPanel({top:22,bot:247,yDom:[10,45],yTicks:yTicksA,title:"50 keV",hyb:hybA,hybErr:hybErrA,mc:mcA,mcErr:mcErrA,dx:dA,dv:vA,inset:{x0:104,x1:291,y0:70,y1:122},letter:"A"});
depthPanel({top:302,bot:527,yDom:[10,80],yTicks:yTicksC,title:"100 keV",hyb:hybC,hybErr:hybErrC,mc:mcC,mcErr:mcErrC,dx:dC,dv:vC,inset:{x0:109,x1:289,y0:355,y1:404},letter:"C"});
depthPanel({top:584,bot:808,yDom:[20,120],yTicks:yTicksE,title:"200 keV",hyb:hybE,hybErr:hybErrE,mc:mcE,mcErr:mcErrE,dx:dE,dv:vE,inset:{x0:97,x1:295,y0:639,y1:693},letter:"E"});
depthPanel({top:864,bot:1088,yDom:[20,80],yTicks:yTicksG,title:"ESRF spectrum",hyb:hybG,hybErr:hybErrG,mc:mcG,mcErr:mcErrG,dx:dG,dv:vG,inset:{x0:101,x1:285,y0:927,y1:977},letter:"G"});

profilePanel({top:31,bot:247,yMax:0.35,yTicks:yTicksB,title:"50 keV, 50 mm depth",mc:mcB,pos:posB,hyb:hybB,diff:diffB,inset:{x0:471,x1:593,y0:36.5,y1:68.5},letter:"B"});
profilePanel({top:311.7,bot:527,yMax:0.6,yTicks:yTicksD,title:"100 keV, 50 mm depth",mc:mcD,pos:posD,hyb:hybD,diff:diffD,inset:{x0:470,x1:590,y0:317.3,y1:349.3},letter:"D"});
profilePanel({top:592.3,bot:808,yMax:1.4,yTicks:yTicksF,title:"200 keV, 50 mm depth",mc:mcF,pos:posF,hyb:hybF,diff:diffF,inset:{x0:469,x1:592,y0:598.5,y1:633.5},letter:"F"});
profilePanel({top:872.3,bot:1088,yMax:0.7,yTicks:yTicksH,title:"ESRF spectrum, 50 mm depth",mc:mcH,pos:posH,hyb:hybH,diff:diffH,inset:{x0:469,x1:592,y0:879,y1:914},letter:"H"});
</script>
</body></html>
